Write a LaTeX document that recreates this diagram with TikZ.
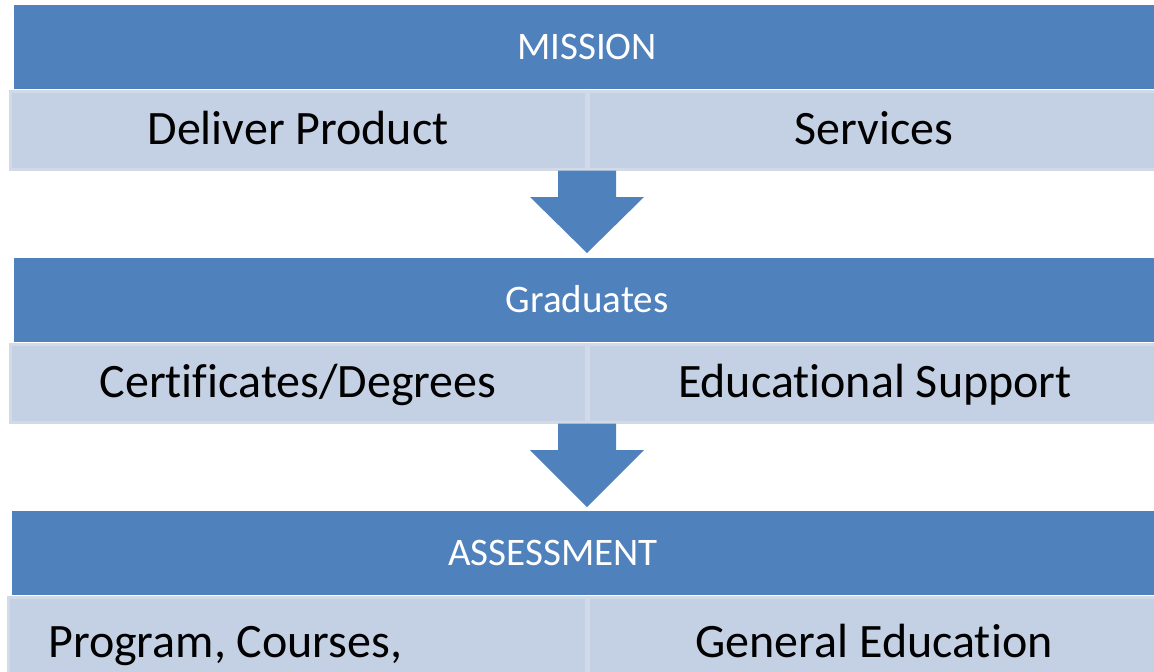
\documentclass[tikz,border=0pt]{standalone}
\usepackage{fontspec}
\setmainfont{Carlito}[Ligatures={NoCommon,NoContextual}]
\definecolor{darkblue}{HTML}{4F81BD}
\definecolor{lightblue}{HTML}{C4D0E3}
\definecolor{edgeblue}{HTML}{D2DAE8}
\begin{document}
\begin{tikzpicture}[x=1pt,y=-1pt,
  header/.style={fill=darkblue,draw=none},
  cellbar/.style={fill=lightblue,draw=edgeblue,line width=3pt},
  divider/.style={draw=edgeblue,line width=5pt},
  blockarrow/.style={fill=darkblue,draw=none},
  headtext/.style={anchor=base,text=white,font=\fontsize{39}{46}\selectfont,inner sep=0pt},
  celltext/.style={anchor=base,text=black,font=\fontsize{48}{56}\selectfont,inner sep=0pt}]
\clip (0,0) rectangle (1154,672);
% band 1
\fill[header] (14,5) rectangle (1170,89);
\draw[cellbar] (10.5,91.5) rectangle (1170,169);
\draw[divider] (587,91) -- (587,169);
\node[headtext] (h1) at (587,59) {MISSION};
\node[celltext] (c11) at (298,144) {Deliver Product};
\node[celltext] (c12) at (874,144) {Services};
% arrow 1
\fill[blockarrow] (558,170.5) -- (616,170.5) -- (616,197) -- (644,197) -- (587,253) -- (530,197) -- (558,197) -- cycle;
% band 2
\fill[header] (14,258) rectangle (1170,342);
\draw[cellbar] (10.5,344.5) rectangle (1170,422);
\draw[divider] (587,344) -- (587,422);
\node[headtext] (h2) at (587,312) {Graduates};
\node[celltext] (c21) at (298,397) {Certificates/Degrees};
\node[celltext] (c22) at (875,397) {Educational Support};
% arrow 2
\fill[blockarrow] (558,423.5) -- (616,423.5) -- (616,450) -- (644,450) -- (587,507) -- (530,450) -- (558,450) -- cycle;
% band 3
\fill[header] (12,511) rectangle (1170,595);
\draw[cellbar] (8.5,597.5) rectangle (1170,690);
\draw[divider] (587,597) -- (587,690);
\node[headtext] (h3) at (553,565) {ASSESSMENT};
\node[celltext,anchor=base west] (c31) at (48,657) {Program, Courses,};
\node[celltext] (c32) at (874,657) {General Education};
\end{tikzpicture}
\end{document}
